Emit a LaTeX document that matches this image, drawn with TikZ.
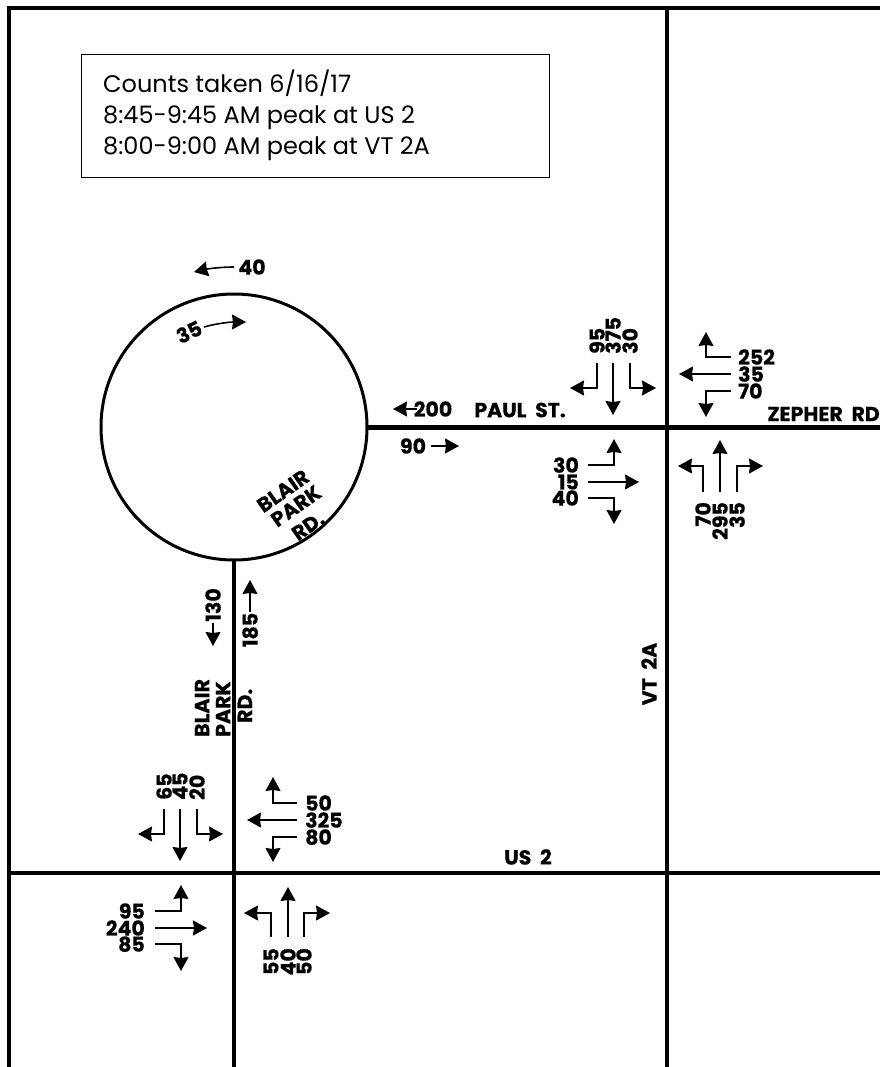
\documentclass[tikz,border=0pt]{standalone}
\usepackage{fontspec}
\setmainfont{Poppins}
\newfontfamily\heavyfont{Poppins}[UprightFeatures={FakeBold=0},BoldFeatures={FakeBold=0.5}]
\usetikzlibrary{arrows.meta}
\tikzset{
  road/.style={line width=4pt},
  ring/.style={line width=3pt},
  flow/.style={line width=1.6pt,-{Stealth[length=14pt,width=15pt,inset=1pt]}},
  lab/.style={font=\fontsize{20.5}{20.5}\selectfont\heavyfont\bfseries,inner sep=0pt,text depth=0pt},
  street/.style={font=\fontsize{20.5}{20.5}\selectfont\heavyfont\bfseries,inner sep=0pt},
  note/.style={draw,line width=.8pt,minimum width=468pt,minimum height=123pt,anchor=north west,inner sep=0pt},
}
\begin{document}
\begin{tikzpicture}[x=1pt,y=-1pt]
\useasboundingbox (0,0) rectangle (880,1067);
% frame and roads
\draw[road,line cap=butt] (9,1067) -- (9,8) -- (880,8);
\draw[road] (667,8) -- (667,1067);
\draw[road] (9,873) -- (880,873);
\draw[road] (234,560) -- (234,1067);
\draw[line width=5pt] (367,427) -- (880,427);
\draw[ring] (234,427) circle (133);
% note
\node[note] (note) at (81,54) {};
\node[anchor=west,inner sep=0pt,font=\fontsize{24}{31}\selectfont,align=left] (notetext) at (103,115)
 {Counts taken 6/16/17\\8:45-9:45 AM peak at US 2\\8:00-9:00 AM peak at VT 2A};
% street names
\node[street] (paul) at (520,410) {PAUL\ \ ST.};
\node[street,anchor=east] (zepher) at (880,414) {ZEPHER\ \ RD};
\node[street] (us) at (528,857) {US\ \ 2};
\node[street,rotate=90] (vt) at (649,674) {VT\ \ 2A};
\node[street,rotate=90,anchor=west] (bl1) at (202,737) {BLAIR};
\node[street,rotate=90,anchor=west] (bl2) at (223,737) {PARK};
\node[street,rotate=90,anchor=west] (bl3) at (245,723) {RD.};
\node[street,rotate=35] (br1) at (283,491) {BLAIR};
\node[street,rotate=35] (br2) at (296,506) {PARK};
\node[street,rotate=35] (br3) at (308,526) {RD.};
% VT2A / Paul-Zepher: south-bound
\draw[flow] (597,363) -- (597,388) -- (570,388);
\draw[flow] (613,363) -- (613,415);
\draw[flow] (630,363) -- (630,388) -- (656,388);
\node[lab,rotate=90,anchor=west] (a1) at (597,354) {95};
\node[lab,rotate=90,anchor=west] (a2) at (613,354) {375};
\node[lab,rotate=90,anchor=west] (a3) at (630,354) {30};
% west-bound
\draw[flow] (731,357) -- (706,357) -- (706,332);
\draw[flow] (731,374) -- (679,374);
\draw[flow] (731,391) -- (706,391) -- (706,417);
\node[lab,anchor=west] (b1) at (738,357) {252};
\node[lab,anchor=west] (b2) at (738,374) {35};
\node[lab,anchor=west] (b3) at (738,391) {70};
% north-bound
\draw[flow] (703,492) -- (703,466) -- (678,466);
\draw[flow] (720,492) -- (720,440);
\draw[flow] (737,492) -- (737,466) -- (763,466);
\node[lab,rotate=90,anchor=east] (c1) at (703,502) {70};
\node[lab,rotate=90,anchor=east] (c2) at (720,502) {295};
\node[lab,rotate=90,anchor=east] (c3) at (737,502) {35};
% east-bound
\draw[flow] (588,465) -- (614,465) -- (614,439);
\draw[flow] (588,482) -- (639,482);
\draw[flow] (588,498) -- (614,498) -- (614,524);
\node[lab,anchor=east] (d1) at (579,465) {30};
\node[lab,anchor=east] (d2) at (579,482) {15};
\node[lab,anchor=east] (d3) at (579,498) {40};
% US2 / Blair Park: south-bound
\draw[flow] (164,809) -- (164,834) -- (138,834);
\draw[flow] (180,809) -- (180,861);
\draw[flow] (197,809) -- (197,834) -- (223,834);
\node[lab,rotate=90,anchor=west] (e1) at (164,800) {65};
\node[lab,rotate=90,anchor=west] (e2) at (180,800) {45};
\node[lab,rotate=90,anchor=west] (e3) at (197,800) {20};
% west-bound
\draw[flow] (297,803) -- (273,803) -- (273,777);
\draw[flow] (297,820) -- (247,820);
\draw[flow] (297,837) -- (273,837) -- (273,862);
\node[lab,anchor=west] (f1) at (305,803) {50};
\node[lab,anchor=west] (f2) at (305,820) {325};
\node[lab,anchor=west] (f3) at (305,837) {80};
% north-bound
\draw[flow] (271,937) -- (271,913) -- (244,913);
\draw[flow] (288,937) -- (288,887);
\draw[flow] (304,937) -- (304,913) -- (330,913);
\node[lab,rotate=90,anchor=east] (g1) at (271,948) {55};
\node[lab,rotate=90,anchor=east] (g2) at (288,948) {40};
\node[lab,rotate=90,anchor=east] (g3) at (304,948) {50};
% east-bound
\draw[flow] (155,911) -- (181,911) -- (181,885);
\draw[flow] (155,928) -- (207,928);
\draw[flow] (155,944) -- (181,944) -- (181,971);
\node[lab,anchor=east] (h1) at (145,911) {95};
\node[lab,anchor=east] (h2) at (145,928) {240};
\node[lab,anchor=east] (h3) at (145,944) {85};
% circle and spokes
\node[lab] (i1) at (252,267) {40};
\draw[flow] (234,267) .. controls (220,267) and (207,269) .. (194,272);
\node[lab,rotate=25] (i2) at (189,332) {35};
\draw[flow] (204,327) .. controls (218,323) and (232,322) .. (246,322);
\node[lab] (j1) at (433,409) {200};
\draw[flow] (417,409) -- (393,409);
\node[lab] (j2) at (413,446) {90};
\draw[flow] (431,446) -- (459,446);
\node[lab,rotate=90] (k1) at (213,605) {130};
\draw[flow] (213,623) -- (213,646);
\node[lab,rotate=90] (k2) at (250,630) {185};
\draw[flow] (250,612) -- (250,580);
\end{tikzpicture}
\end{document}
